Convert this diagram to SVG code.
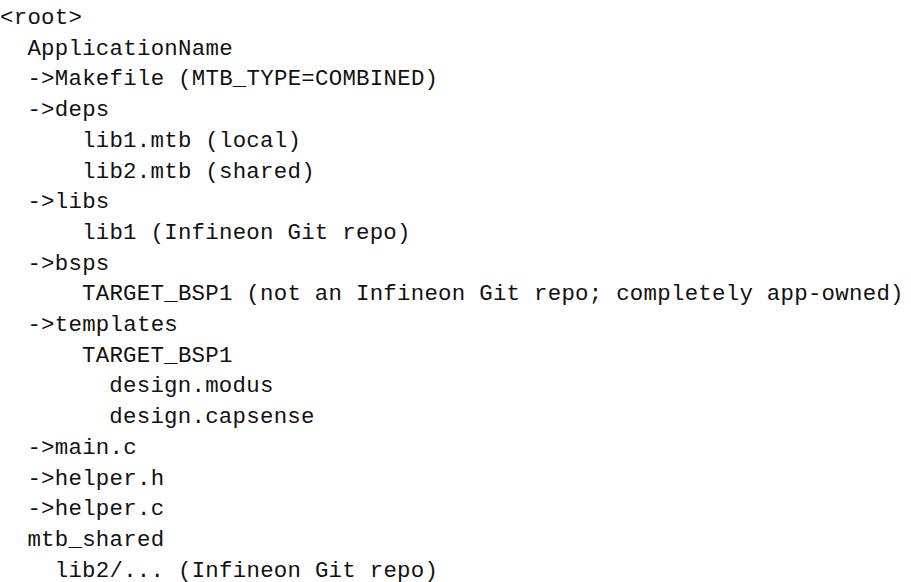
<svg xmlns="http://www.w3.org/2000/svg" width="911" height="582" viewBox="0 0 911 582">
<style>
text { font-family: "Courier New", "Liberation Mono", monospace; font-size: 22.4px; letter-spacing: 0.26px; fill: #111; }
</style>
<rect width="911" height="582" fill="#fff"/>
<g id="tree">
<text x="0" y="24">&lt;root&gt;</text>
<text x="27.4" y="54.7">ApplicationName</text>
<text x="27.4" y="85.4">-&gt;Makefile (MTB_TYPE=COMBINED)</text>
<text x="27.4" y="116.1">-&gt;deps</text>
<text x="82" y="146.8">lib1.mtb (local)</text>
<text x="82" y="177.5">lib2.mtb (shared)</text>
<text x="27.4" y="208.2">-&gt;libs</text>
<text x="82" y="238.9">lib1 (Infineon Git repo)</text>
<text x="27.4" y="269.6">-&gt;bsps</text>
<text x="82" y="300.3">TARGET_BSP1 (not an Infineon Git repo; completely app-owned)</text>
<text x="27.4" y="331">-&gt;templates</text>
<text x="82" y="361.7">TARGET_BSP1</text>
<text x="109.3" y="392.4">design.modus</text>
<text x="109.3" y="423.1">design.capsense</text>
<text x="27.4" y="453.8">-&gt;main.c</text>
<text x="27.4" y="484.5">-&gt;helper.h</text>
<text x="27.4" y="515.2">-&gt;helper.c</text>
<text x="27.4" y="545.9">mtb_shared</text>
<text x="54.7" y="576.6">lib2/... (Infineon Git repo)</text>
</g>
</svg>
